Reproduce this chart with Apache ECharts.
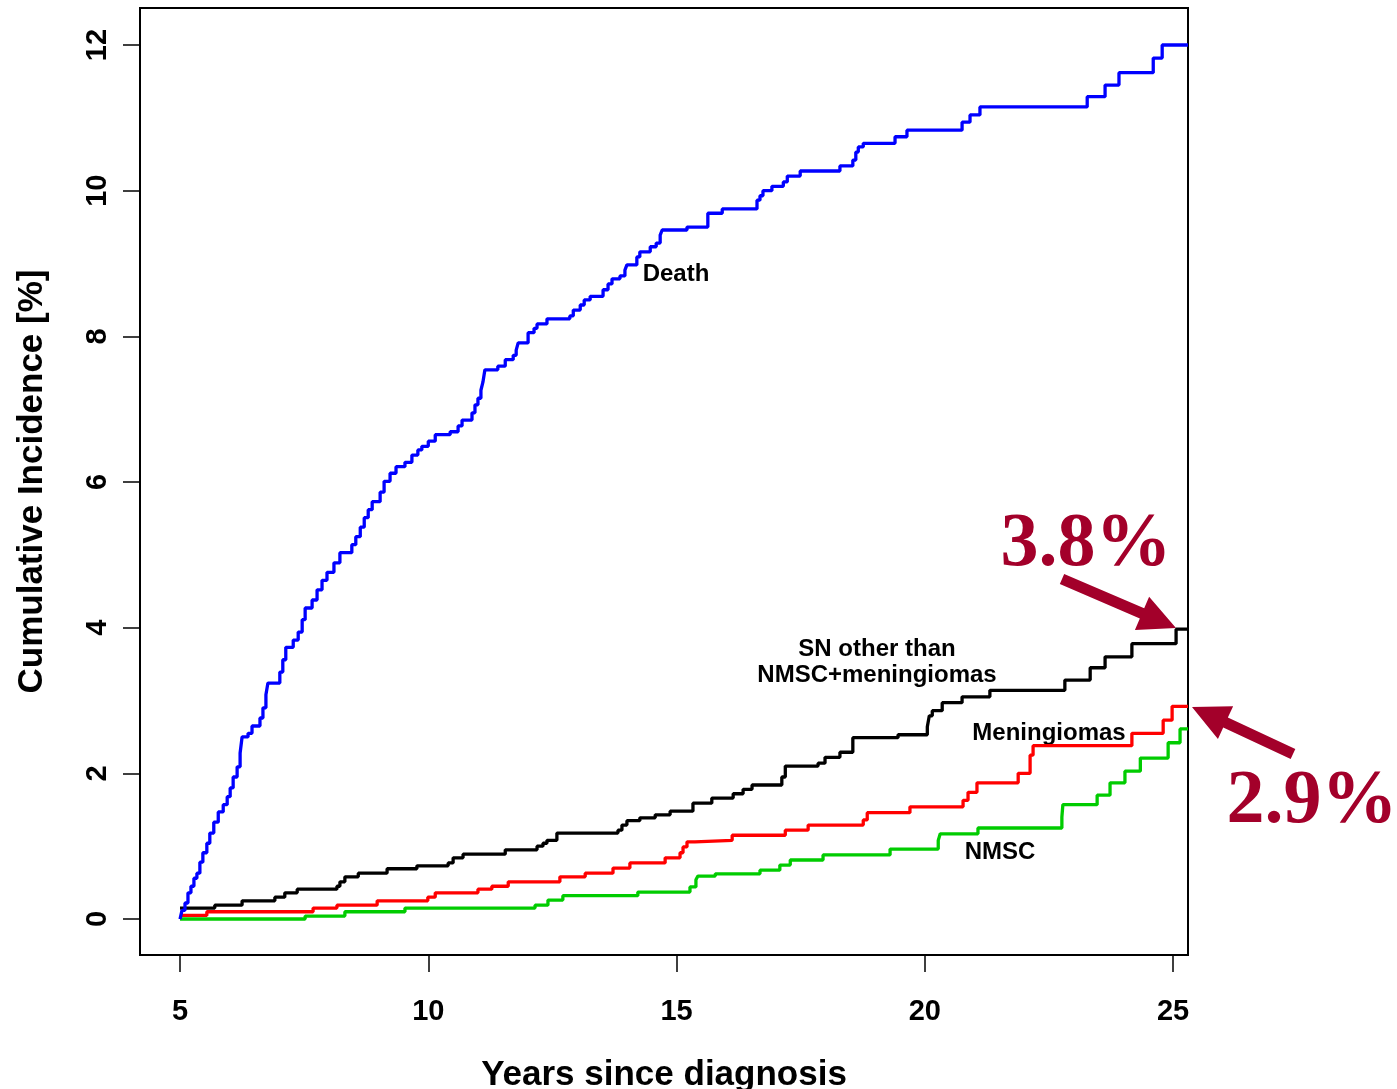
<!DOCTYPE html>
<html><head><meta charset="utf-8">
<script src="https://cdn.jsdelivr.net/npm/echarts@6/dist/echarts.min.js"></script>
<style>html,body{margin:0;padding:0;background:#fff}#c{width:1397px;height:1089px}</style>
</head><body><div id="c"></div>
<script>
// ---- data ----
const xTicks = [5, 10, 15, 20, 25];
const yTicks = [0, 2, 4, 6, 8, 10, 12];

const deathTimes = [5.00,5.04,5.10,5.16,5.22,5.28,5.34,5.40,5.46,5.54,5.60,5.68,5.77,5.87,5.95,6.01,6.07,6.15,6.21,6.25,6.37,6.45,6.61,6.67,6.73,6.77,7.01,7.07,7.13,7.28,7.38,7.46,7.52,7.66,7.76,7.86,7.96,8.10,8.22,8.46,8.54,8.63,8.71,8.79,8.87,9.03,9.11,9.23,9.35,9.53,9.67,9.79,9.87,10.00,10.14,10.44,10.60,10.68,10.88,10.94,11.00,11.06,11.10,11.14,11.40,11.55,11.71,11.77,11.81,12.01,12.13,12.19,12.39,12.85,12.92,13.06,13.14,13.26,13.52,13.62,13.70,13.86,13.96,14.00,14.20,14.26,14.47,14.59,14.67,14.71,15.21,15.63,15.92,16.62,16.68,16.74,16.92,17.15,17.23,17.49,18.29,18.55,18.61,18.66,18.76,19.40,19.64,20.75,20.91,21.11,23.27,23.63,23.91,24.60,24.78,25.30];
const deathValues = [0.00,0.12,0.22,0.36,0.45,0.56,0.63,0.78,0.91,1.04,1.18,1.33,1.47,1.57,1.68,1.80,1.95,2.09,2.28,2.50,2.55,2.65,2.76,2.90,3.08,3.24,3.39,3.56,3.73,3.83,3.94,4.11,4.27,4.38,4.52,4.65,4.76,4.89,5.03,5.14,5.25,5.38,5.51,5.62,5.73,5.86,6.01,6.12,6.21,6.27,6.37,6.44,6.49,6.56,6.65,6.69,6.77,6.85,6.95,7.06,7.15,7.26,7.37,7.54,7.59,7.68,7.74,7.81,7.91,8.05,8.11,8.17,8.24,8.28,8.36,8.43,8.50,8.55,8.64,8.72,8.79,8.83,8.91,8.98,9.09,9.16,9.23,9.28,9.39,9.46,9.50,9.69,9.75,9.87,9.93,10.00,10.06,10.12,10.20,10.27,10.34,10.42,10.53,10.60,10.65,10.74,10.83,10.94,11.04,11.15,11.29,11.45,11.62,11.82,12.00,12.00];

const snTimes = [5.00,5.70,6.25,6.91,7.11,7.36,8.16,8.22,8.32,8.59,9.17,9.77,10.40,10.50,10.70,11.55,12.19,12.31,12.39,12.59,13.82,13.90,14.00,14.26,14.57,14.87,15.33,15.71,16.14,16.34,16.52,17.12,17.19,17.85,17.99,18.29,18.55,19.46,20.05,20.09,20.15,20.35,20.75,21.31,22.82,23.33,23.63,24.17,25.06,25.30];
const snValues = [0.15,0.19,0.25,0.30,0.36,0.41,0.45,0.51,0.58,0.63,0.69,0.73,0.77,0.84,0.89,0.95,1.00,1.04,1.08,1.18,1.22,1.29,1.35,1.39,1.43,1.48,1.59,1.66,1.72,1.78,1.84,1.95,2.10,2.14,2.22,2.29,2.49,2.53,2.64,2.79,2.86,2.97,3.05,3.14,3.28,3.45,3.60,3.78,3.98,3.98];

const menTimes = [5.00,5.54,7.68,8.16,8.97,9.99,10.14,11.00,11.28,11.61,12.65,13.16,13.72,14.06,14.77,15.07,15.13,15.21,15.37,16.12,17.19,17.65,18.76,18.84,19.70,20.77,20.87,21.05,21.88,22.12,22.18,24.17,24.80,24.98,25.30];
const menValues = [0.05,0.10,0.15,0.19,0.25,0.30,0.36,0.41,0.45,0.51,0.58,0.63,0.70,0.77,0.84,0.91,0.99,1.06,1.08,1.15,1.22,1.29,1.36,1.46,1.54,1.63,1.74,1.87,2.00,2.25,2.38,2.55,2.73,2.92,2.92];

const nmscTimes = [5.00,7.52,8.32,9.53,12.15,12.41,12.71,14.22,15.27,15.39,15.43,15.78,16.68,17.08,17.29,17.95,19.30,20.27,20.31,21.07,22.76,22.78,23.47,23.73,24.03,24.34,24.90,25.14,25.30];
const nmscValues = [0.00,0.04,0.10,0.15,0.19,0.26,0.32,0.37,0.44,0.54,0.59,0.62,0.67,0.74,0.81,0.88,0.96,1.08,1.17,1.25,1.40,1.57,1.70,1.87,2.03,2.21,2.42,2.61,2.61];

const seriesNames = ['NMSC', 'Meningiomas', 'SN other than NMSC+meningiomas', 'Death'];
const annotTexts = ['3.8%', '2.9%'];

// ---- chart ----
const zip = (a, b) => a.map((t, i) => [t, b[i]]);
const sans = '"Liberation Sans", Arial, sans-serif';
const serif = '"Liberation Serif", "Times New Roman", serif';
const dark = '#A3002A';

function arrow(x0, y0, x1, y1, sw, hl, hw) {
  const dx = x1 - x0, dy = y1 - y0, L = Math.hypot(dx, dy);
  const ux = dx / L, uy = dy / L, nx = -uy, ny = ux;
  const bx = x1 - ux * hl, by = y1 - uy * hl;
  return [
    [x0 + nx * sw, y0 + ny * sw], [bx + nx * sw, by + ny * sw], [bx + nx * hw, by + ny * hw],
    [x1, y1],
    [bx - nx * hw, by - ny * hw], [bx - nx * sw, by - ny * sw], [x0 - nx * sw, y0 - ny * sw]
  ];
}

const chart = echarts.init(document.getElementById('c'), null, {renderer: 'canvas'});
const lineSeries = (name, t, v, color) => ({
  name, type: 'line', step: 'end', data: zip(t, v), showSymbol: false, symbol: 'none',
  lineStyle: {color, width: 3.3}, itemStyle: {color}, animation: false, clip: true
});

chart.setOption({
  animation: false,
  backgroundColor: '#fff',
  grid: {left: 140, top: 8, width: 1048, height: 947, containLabel: false, outerBoundsMode: 'none',
         show: true, borderColor: '#000', borderWidth: 2, backgroundColor: 'transparent'},
  xAxis: {
    type: 'value', min: 4.194, max: 25.30,
    name: 'Years since diagnosis', nameLocation: 'middle', nameGap: 103,
    nameTextStyle: {fontFamily: sans, fontWeight: 'bold', fontSize: 35, color: '#000'},
    axisLine: {show: false, onZero: false}, splitLine: {show: false},
    axisTick: {show: true, inside: false, length: 17, customValues: xTicks, lineStyle: {color: '#000', width: 1.5}},
    axisLabel: {customValues: xTicks, margin: 42, fontFamily: sans, fontWeight: 'bold', fontSize: 29, color: '#000'}
  },
  yAxis: {
    type: 'value', min: -0.494, max: 12.508,
    name: 'Cumulative Incidence [%]', nameLocation: 'middle', nameGap: 90, nameRotate: 90,
    nameTextStyle: {fontFamily: sans, fontWeight: 'bold', fontSize: 35, color: '#000'},
    axisLine: {show: false, onZero: false}, splitLine: {show: false},
    axisTick: {show: true, inside: false, length: 17, customValues: yTicks, lineStyle: {color: '#000', width: 1.5}},
    axisLabel: {customValues: yTicks, rotate: 90, margin: 28, fontFamily: sans, fontWeight: 'bold', fontSize: 29, color: '#000'}
  },
  series: [
    lineSeries(seriesNames[0], nmscTimes, nmscValues, '#00CC00'),
    lineSeries(seriesNames[1], menTimes, menValues, '#FF0000'),
    lineSeries(seriesNames[2], snTimes, snValues, '#000000'),
    lineSeries(seriesNames[3], deathTimes, deathValues, '#0000FF')
  ],
  graphic: [
    {type: 'text', x: 676, y: 274, style: {text: 'Death', font: 'bold 24px ' + sans, fill: '#000', align: 'center', verticalAlign: 'middle'}},
    {type: 'text', x: 877, y: 662, style: {text: 'SN other than\nNMSC+meningiomas', font: 'bold 24px ' + sans, fill: '#000', align: 'center', verticalAlign: 'middle', lineHeight: 26}},
    {type: 'text', x: 1049, y: 733, style: {text: 'Meningiomas', font: 'bold 24px ' + sans, fill: '#000', align: 'center', verticalAlign: 'middle'}},
    {type: 'text', x: 1000, y: 852, style: {text: 'NMSC', font: 'bold 24px ' + sans, fill: '#000', align: 'center', verticalAlign: 'middle'}},
    {type: 'text', x: 1086, y: 545, style: {text: annotTexts[0], font: 'bold 76px ' + serif, fill: dark, align: 'center', verticalAlign: 'middle'}},
    {type: 'text', x: 1312, y: 802, style: {text: annotTexts[1], font: 'bold 76px ' + serif, fill: dark, align: 'center', verticalAlign: 'middle'}},
    {type: 'polygon', shape: {points: arrow(1062, 579, 1176, 628, 5.5, 37, 18)}, style: {fill: dark}},
    {type: 'polygon', shape: {points: arrow(1293, 754, 1192, 707, 5.5, 37, 18)}, style: {fill: dark}}
  ]
});
</script></body></html>
